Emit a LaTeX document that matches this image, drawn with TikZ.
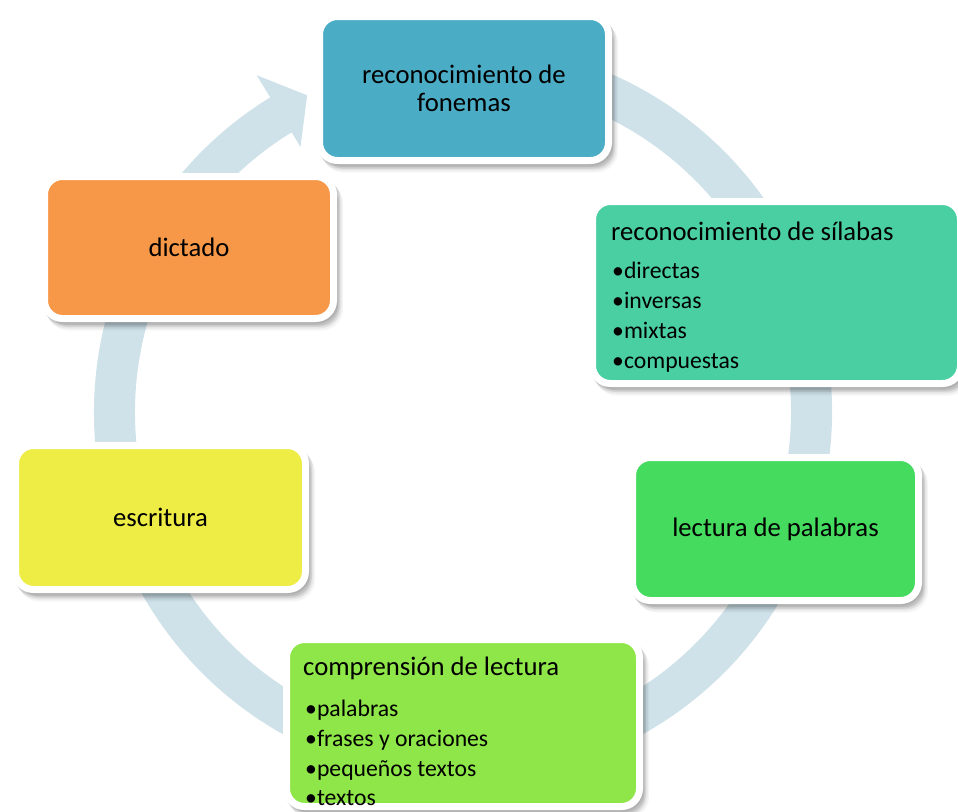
\documentclass[tikz,border=0pt]{standalone}
\usepackage{fontspec}
\setmainfont{Carlito}
\usetikzlibrary{shadows,calc}
\definecolor{ringc}{HTML}{CFE2EA}
\definecolor{cfon}{HTML}{4BACC6}
\definecolor{csil}{HTML}{4ACFA3}
\definecolor{cpal}{HTML}{44DB5E}
\definecolor{ccom}{HTML}{8EE648}
\definecolor{cesc}{HTML}{EDED46}
\definecolor{cdic}{HTML}{F79848}
\begin{document}
\begin{tikzpicture}[x=1pt,y=1pt,
  softshadow/.style={
    general shadow={fill=black, draw=black, line width=7pt, opacity=0.07, shadow xshift=1.5pt, shadow yshift=-2.5pt},
    general shadow={fill=black, draw=black, line width=7pt, opacity=0.07, shadow xshift=3pt, shadow yshift=-4.5pt},
    general shadow={fill=black, draw=black, line width=7pt, opacity=0.06, shadow xshift=4.5pt, shadow yshift=-6.5pt},
    general shadow={fill=black, draw=black, line width=7pt, opacity=0.04, shadow xshift=6pt, shadow yshift=-8.5pt}},
  box/.style={rectangle, rounded corners=18pt, draw=white, line width=7pt,
    inner sep=0pt, outer sep=0pt, align=center,
    font=\fontsize{26.7}{28}\selectfont, softshadow},
  head/.style={font=\fontsize{26.7}{28}\selectfont, anchor=base west, inner sep=0pt},
  item/.style={font=\fontsize{23.7}{30}\selectfont, anchor=base west, inner sep=0pt}]
\useasboundingbox (0,0) rectangle (958,-811);
\coordinate (c) at (463,-412);
\fill[ringc] ($(c)+(80:369)$) arc[start angle=80,end angle=-238.5,radius=369]
  -- ($(c)+(121.5:395)$) -- ($(c)+(116.2:353)$) -- ($(c)+(121.5:311)$)
  -- ($(c)+(121.5:328)$) arc[start angle=-238.5,end angle=80,radius=328] -- cycle;

\node[box, fill=cfon, minimum width=289, minimum height=144] (fon) at (464,-88.5) {reconocimiento de\\fonemas};
\node[box, fill=csil, minimum width=368, minimum height=182] (sil) at (776.5,-292.5) {};
\node[box, fill=cpal, minimum width=286, minimum height=143] (pal) at (775.5,-529) {lectura de palabras};
\node[box, fill=ccom, minimum width=353, minimum height=167] (com) at (463,-723) {};
\node[box, fill=cesc, minimum width=290, minimum height=144] (esc) at (160.5,-517.5) {escritura};
\node[box, fill=cdic, minimum width=289, minimum height=142] (dic) at (189,-247.5) {dictado};

\node[head] (silh) at (611,-240) {reconocimiento de sílabas};
\node[item] (sil1) at (612,-278) {•directas};
\node[item] (sil2) at (612,-308) {•inversas};
\node[item] (sil3) at (612,-338) {•mixtas};
\node[item] (sil4) at (612,-368) {•compuestas};

\node[head] (comh) at (303,-675) {comprensión de lectura};
\node[item] (com1) at (305,-716) {•palabras};
\node[item] (com2) at (305,-746) {•frases y oraciones};
\node[item] (com3) at (305,-776) {•pequeños textos};
\node[item] (com4) at (305,-805) {•textos};
\end{tikzpicture}
\end{document}
